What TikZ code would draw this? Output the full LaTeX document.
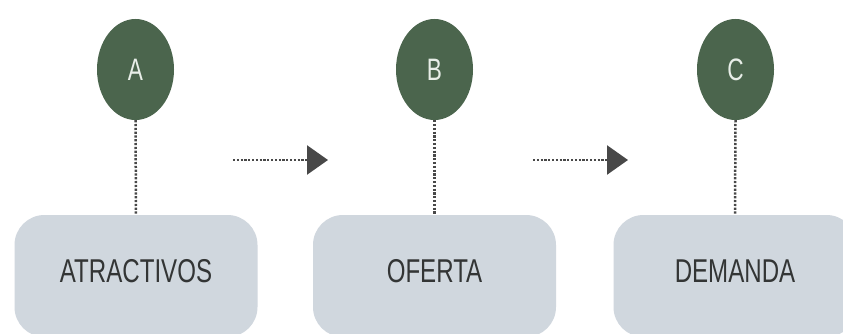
\documentclass[tikz,border=0pt]{standalone}
\usepackage{fontspec}
\usetikzlibrary{shapes.geometric,arrows.meta}
\newfontfamily\narrowsans[FakeStretch=0.73]{Liberation Sans}
\definecolor{ovalgreen}{HTML}{4B654D}
\definecolor{boxgrey}{HTML}{D0D7DE}
\definecolor{labelgrey}{HTML}{333535}
\definecolor{dotgrey}{HTML}{484848}
\definecolor{lettercol}{HTML}{E8EEE8}
\begin{document}
\begin{tikzpicture}[x=1pt,y=-1pt,
  oval/.style={ellipse, fill=ovalgreen, minimum width=77pt, minimum height=101pt, inner sep=0pt,
    text=lettercol, font=\narrowsans\fontsize{31}{33}\selectfont},
  stagebox/.style={rectangle, rounded corners=30pt, fill=boxgrey, minimum width=243pt,
    minimum height=122pt, inner sep=0pt, text depth=10pt, text=labelgrey,
    font=\narrowsans\fontsize{33}{36}\selectfont},
  dotline/.style={dotgrey, line width=2.5pt, dash pattern=on 2.2pt off 1.6pt},
  flowarrow/.style={dotline, -{Triangle[length=21pt,width=29pt,fill=dotgrey]}}
]
\useasboundingbox (0,0) rectangle (843,334);
\clip (0,0) rectangle (843,334);
\fill[white] (0,0) rectangle (843,334);
\node[stagebox] (boxA) at (136,276) {ATRACTIVOS};
\node[stagebox] (boxB) at (434.5,276) {OFERTA};
\node[stagebox] (boxC) at (735,276) {DEMANDA};
\node[oval] (ovA) at (135.5,69.5) {A};
\node[oval] (ovB) at (434.5,69.5) {B};
\node[oval] (ovC) at (735.5,69.5) {C};
\draw[dotline] (ovA.south) -- (boxA.north);
\draw[dotline] (ovB.south) -- (boxB.north);
\draw[dotline] (ovC.south) -- (boxC.north);
\coordinate (a1s) at (233,160);
\coordinate (a1e) at (328,160);
\coordinate (a2s) at (533,160);
\coordinate (a2e) at (628,160);
\draw[flowarrow] (a1s) -- (a1e);
\draw[flowarrow] (a2s) -- (a2e);
\end{tikzpicture}
\end{document}
